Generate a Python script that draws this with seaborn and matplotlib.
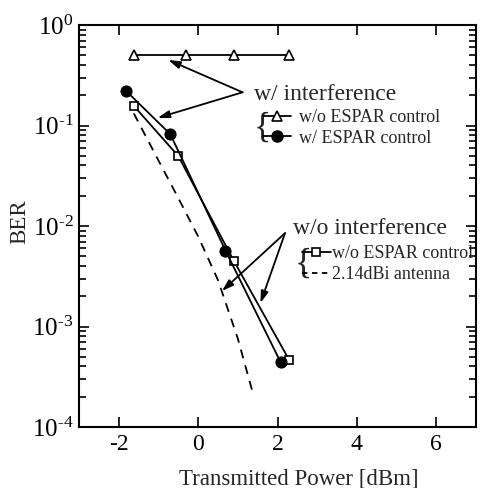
import matplotlib
matplotlib.use("Agg")
import matplotlib.pyplot as plt
from matplotlib.lines import Line2D
from matplotlib.ticker import LogLocator, NullFormatter, FixedLocator
import numpy as np
import seaborn as sns

# ---------- data ----------
tri_x = [-1.62, -0.31, 0.90, 2.30]           # w/ interference, w/o ESPAR control
tri_y = [0.5, 0.5, 0.5, 0.5]
circ_x = [-1.82, -0.70, 0.69, 2.08]          # w/ interference, w/ ESPAR control
circ_y = [0.222, 0.082, 0.0057, 4.4e-4]
sq_x = [-1.62, -0.50, 0.90, 2.30]            # w/o interference, w/o ESPAR control
sq_y = [0.157, 0.0497, 0.0045, 4.6e-4]
dash_x = [-1.62, -1.0, -0.5, 0.0, 0.5, 1.0, 1.37]   # 2.14dBi antenna
dash_y = [0.132, 0.045, 0.019, 0.0079, 0.0029, 7.6e-4, 2.24e-4]

x_ticks = [-2, 0, 2, 4, 6]
y_ticks = [1e-4, 1e-3, 1e-2, 1e-1, 1e0]
y_tick_labels = [r"$10^{\text{-}4}$", r"$10^{\text{-}3}$", r"$10^{\text{-}2}$",
                 r"$10^{\text{-}1}$", r"$10^{0}$"]

sns.set_style("ticks")
plt.rcParams["font.family"] = ["Liberation Serif", "DejaVu Serif"]
plt.rcParams["mathtext.fontset"] = "custom"
plt.rcParams["mathtext.rm"] = "Liberation Serif"
plt.rcParams["mathtext.it"] = "Liberation Serif:italic"
plt.rcParams["mathtext.default"] = "rm"

fig = plt.figure(figsize=(4.81, 4.88), dpi=100)
ax = fig.add_axes([79 / 481, 1 - 427 / 488, 397 / 481, 402 / 488])

lw = 1.3
sns.lineplot(x=tri_x, y=tri_y, ax=ax, color="black", lw=lw, marker="^",
             markersize=6.5, markerfacecolor="white", markeredgecolor="black",
             markeredgewidth=1.2, sort=False)
sns.lineplot(x=sq_x, y=sq_y, ax=ax, color="black", lw=lw, marker="s",
             markersize=6, markerfacecolor="white", markeredgecolor="black",
             markeredgewidth=1.2, sort=False)
sns.lineplot(x=circ_x, y=circ_y, ax=ax, color="black", lw=lw, marker="o",
             markersize=8, markerfacecolor="black", markeredgecolor="black",
             sort=False)
sns.lineplot(x=dash_x, y=dash_y, ax=ax, color="black", lw=lw, linestyle=(0, (5, 4)),
             sort=False)

ax.set_yscale("log")
ax.set_xlim(-3, 7)
ax.set_ylim(1e-4, 1)
ax.xaxis.set_major_locator(FixedLocator(x_ticks))
ax.set_xticklabels([str(t) for t in x_ticks])
ax.yaxis.set_major_locator(FixedLocator(y_ticks))
ax.set_yticklabels(y_tick_labels)
ax.yaxis.set_minor_locator(LogLocator(base=10, subs=np.arange(2, 10), numticks=20))
ax.yaxis.set_minor_formatter(NullFormatter())
ax.tick_params(axis="both", which="both", direction="in", top=True, right=True,
               width=1.2, colors="black")
ax.tick_params(axis="both", which="major", length=7)
ax.tick_params(axis="y", which="minor", length=5)
ax.tick_params(axis="x", labelsize=17, pad=5)
ax.tick_params(axis="y", labelsize=18, pad=4)
for sp in ax.spines.values():
    sp.set_linewidth(1.5)
    sp.set_color("black")

ax.set_xlabel("Transmitted Power [dBm]", fontsize=16.5)
ax.set_ylabel("BER", fontsize=16.5)
ax.xaxis.set_label_coords(0.554, -0.103)
ax.yaxis.set_label_coords(-0.122, 0.51)

# ---------- annotations ----------
ax.text(0.441, 0.828, "w/ interference", transform=ax.transAxes, fontsize=17,
        va="center", ha="left")
ax.text(0.539, 0.495, "w/o interference", transform=ax.transAxes, fontsize=17,
        va="center", ha="left")

arrow = dict(arrowstyle="-|>,head_length=0.7,head_width=0.22", color="black",
             lw=1.3, shrinkA=0, shrinkB=0)
ax.annotate("", xy=(-0.75, 0.449), xytext=(1.12, 0.214), arrowprops=arrow)
ax.annotate("", xy=(-1.02, 0.119), xytext=(1.12, 0.214), arrowprops=arrow)
ax.annotate("", xy=(0.60, 2.25e-3), xytext=(2.19, 0.0085), arrowprops=arrow)
ax.annotate("", xy=(1.57, 1.71e-3), xytext=(2.19, 0.0085), arrowprops=arrow)

# ---------- legends ----------
h_tri = Line2D([], [], color="black", lw=lw, marker="^", markersize=6.5,
               markerfacecolor="white", markeredgewidth=1.2)
h_circ = Line2D([], [], color="black", lw=lw, marker="o", markersize=8)
h_sq = Line2D([], [], color="black", lw=lw, marker="s", markersize=6,
              markerfacecolor="white", markeredgewidth=1.2)
h_dash = Line2D([], [], color="black", lw=lw, linestyle=(0, (3, 2.5)))

leg1 = ax.legend([h_tri, h_circ], ["w/o ESPAR control", "w/ ESPAR control"],
                 loc="center left", bbox_to_anchor=(0.463, 0.744), frameon=False,
                 fontsize=13, handlelength=1.55, handletextpad=0.45,
                 borderpad=0, borderaxespad=0, labelspacing=0.2)
ax.add_artist(leg1)
ax.legend([h_sq, h_dash], ["w/o ESPAR control", "2.14dBi antenna"],
          loc="center left", bbox_to_anchor=(0.561, 0.405), frameon=False,
          fontsize=13, handlelength=1.6, handletextpad=0.1,
          borderpad=0, borderaxespad=0, labelspacing=0.2)

ax.text(0.441, 0.744, "{", transform=ax.transAxes, fontsize=26, va="center",
        ha="left")
ax.text(0.542, 0.405, "{", transform=ax.transAxes, fontsize=26, va="center",
        ha="left")

fig.savefig("out.png", dpi=100)
